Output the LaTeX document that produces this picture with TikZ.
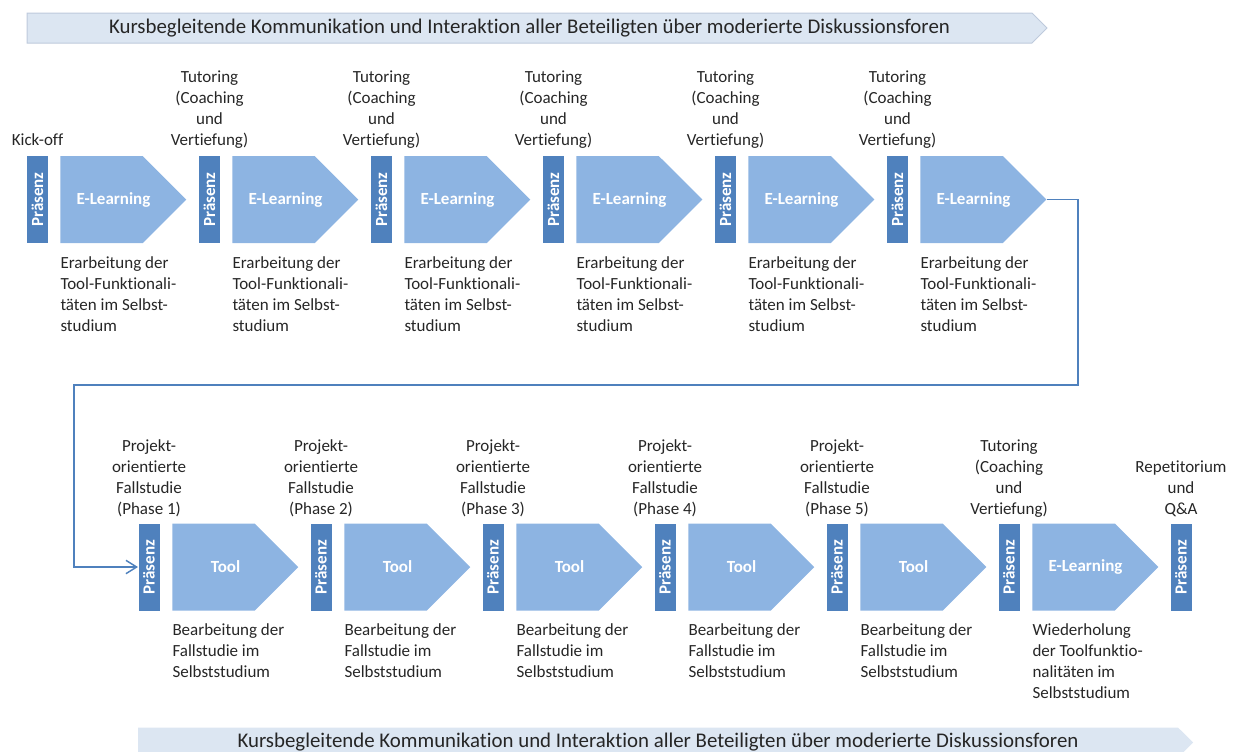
\documentclass[tikz,border=0pt]{standalone}
\usepackage{fontspec}
\setmainfont{Carlito}[Ligatures=NoCommon]
\usetikzlibrary{shapes.symbols,arrows.meta}

\newcommand{\basefont}{\fontsize{12.75}{15.75}\selectfont}

\tikzset{every picture/.style={line width=0.75pt}}
\tikzset{
  praes/.style={rectangle, rotate=90, fill={rgb,255:red,79;green,129;blue,189}, text=white, font=\basefont\bfseries, minimum width=65.25pt, minimum height=15.75pt, inner sep=0pt},
  chev/.style={signal, signal to=east, signal from=nowhere, signal pointer angle=90, fill={rgb,255:red,141;green,180;blue,226}, minimum width=94.5pt, minimum height=65.25pt, inner sep=0pt},
  chevtext/.style={text=white, font=\basefont\bfseries, xshift=9pt},
  banner/.style={signal, signal to=east, signal from=nowhere, signal pointer angle=90, fill={rgb,255:red,220;green,230;blue,242}, minimum height=22.5pt, inner sep=0pt, font=\fontsize{15.65}{18}\selectfont},
  toplabel/.style={anchor=south, align=center, inner sep=0pt, text depth=0pt},
  sublabel/.style={anchor=north west, align=left, inner sep=0pt},
  flowline/.style={draw={rgb,255:red,79;green,129;blue,189}, line width=1.1pt, -{Straight Barb[length=8pt,width=10pt]}}
}

\begin{document}
\begin{tikzpicture}[x=0.75pt,y=0.75pt,yscale=-1,xscale=1, font=\basefont, text={rgb,255:red,38;green,38;blue,38}]
	\useasboundingbox (0,0) rectangle (1235,751);

	%Shape: Banner top
	\node[banner, draw={rgb,255:red,190;green,202;blue,220}, minimum width=765pt] (forumtop) at (529.5,28) {Kursbegleitende Kommunikation und Interaktion aller Beteiligten über moderierte Diskussionsforen};

	% Row 1
	\node[toplabel] (kick) at (37.5,146) {Kick-off};
	\node[praes] (p1) at (37.5,199.5) {Präsenz};
	\node[chev, label={[chevtext]center:E-Learning}] (e1) at (101.5,199.5) {};
	\node[sublabel] (sub1) at (60,256) {Erarbeitung der\\Tool-Funktionali-\\täten im Selbst-\\studium};

	\node[toplabel] (tut1) at (209.5,146) {Tutoring\\(Coaching\\und\\Vertiefung)};
	\node[praes] (p2) at (209.5,199.5) {Präsenz};
	\node[chev, label={[chevtext]center:E-Learning}] (e2) at (273.5,199.5) {};
	\node[sublabel] (sub2) at (232,256) {Erarbeitung der\\Tool-Funktionali-\\täten im Selbst-\\studium};

	\node[toplabel] (tut2) at (381.5,146) {Tutoring\\(Coaching\\und\\Vertiefung)};
	\node[praes] (p3) at (381.5,199.5) {Präsenz};
	\node[chev, label={[chevtext]center:E-Learning}] (e3) at (445.5,199.5) {};
	\node[sublabel] (sub3) at (404,256) {Erarbeitung der\\Tool-Funktionali-\\täten im Selbst-\\studium};

	\node[toplabel] (tut3) at (553.5,146) {Tutoring\\(Coaching\\und\\Vertiefung)};
	\node[praes] (p4) at (553.5,199.5) {Präsenz};
	\node[chev, label={[chevtext]center:E-Learning}] (e4) at (617.5,199.5) {};
	\node[sublabel] (sub4) at (576,256) {Erarbeitung der\\Tool-Funktionali-\\täten im Selbst-\\studium};

	\node[toplabel] (tut4) at (725.5,146) {Tutoring\\(Coaching\\und\\Vertiefung)};
	\node[praes] (p5) at (725.5,199.5) {Präsenz};
	\node[chev, label={[chevtext]center:E-Learning}] (e5) at (789.5,199.5) {};
	\node[sublabel] (sub5) at (748,256) {Erarbeitung der\\Tool-Funktionali-\\täten im Selbst-\\studium};

	\node[toplabel] (tut5) at (897.5,146) {Tutoring\\(Coaching\\und\\Vertiefung)};
	\node[praes] (p6) at (897.5,199.5) {Präsenz};
	\node[chev, label={[chevtext]center:E-Learning}] (e6) at (961.5,199.5) {};
	\node[sublabel] (sub6) at (920,256) {Erarbeitung der\\Tool-Funktionali-\\täten im Selbst-\\studium};

	% Row 2
	\node[toplabel] (fall1) at (149,515) {Projekt-\\orientierte\\Fallstudie\\(Phase 1)};
	\node[praes] (q1) at (149,567) {Präsenz};
	\node[chev, label={[chevtext]center:Tool}] (t1) at (213.5,567) {};
	\node[sublabel] (bsub1) at (172,623) {Bearbeitung der\\Fallstudie im\\Selbststudium};

	\node[toplabel] (fall2) at (321,515) {Projekt-\\orientierte\\Fallstudie\\(Phase 2)};
	\node[praes] (q2) at (321,567) {Präsenz};
	\node[chev, label={[chevtext]center:Tool}] (t2) at (385.5,567) {};
	\node[sublabel] (bsub2) at (344,623) {Bearbeitung der\\Fallstudie im\\Selbststudium};

	\node[toplabel] (fall3) at (493,515) {Projekt-\\orientierte\\Fallstudie\\(Phase 3)};
	\node[praes] (q3) at (493,567) {Präsenz};
	\node[chev, label={[chevtext]center:Tool}] (t3) at (557.5,567) {};
	\node[sublabel] (bsub3) at (516,623) {Bearbeitung der\\Fallstudie im\\Selbststudium};

	\node[toplabel] (fall4) at (665,515) {Projekt-\\orientierte\\Fallstudie\\(Phase 4)};
	\node[praes] (q4) at (665,567) {Präsenz};
	\node[chev, label={[chevtext]center:Tool}] (t4) at (729.5,567) {};
	\node[sublabel] (bsub4) at (688,623) {Bearbeitung der\\Fallstudie im\\Selbststudium};

	\node[toplabel] (fall5) at (837,515) {Projekt-\\orientierte\\Fallstudie\\(Phase 5)};
	\node[praes] (q5) at (837,567) {Präsenz};
	\node[chev, label={[chevtext]center:Tool}] (t5) at (901.5,567) {};
	\node[sublabel] (bsub5) at (860,623) {Bearbeitung der\\Fallstudie im\\Selbststudium};

	\node[toplabel] (tut6) at (1009,515) {Tutoring\\(Coaching\\und\\Vertiefung)};
	\node[praes] (q6) at (1009,567) {Präsenz};
	\node[chev, label={[chevtext]center:E-Learning}] (e7) at (1073.5,567) {};
	\node[sublabel] (bsub6) at (1032,623) {Wiederholung\\der Toolfunktio-\\nalitäten im\\Selbststudium};

	\node[toplabel] (rep) at (1181,515) {Repetitorium\\und\\Q\&A};
	\node[praes] (q7) at (1181,567) {Präsenz};

	%Shape: Banner bottom
	\node[banner, minimum width=791.25pt] (forumbot) at (658,742.5) {Kursbegleitende Kommunikation und Interaktion aller Beteiligten über moderierte Diskussionsforen};

	% Connector row 1 -> row 2
	\coordinate (turnA) at (1078,385);
	\coordinate (turnB) at (74,385);
	\draw[flowline] (e6.east) -| (turnA) -- (turnB) |- (q1);

\end{tikzpicture}
\end{document}
